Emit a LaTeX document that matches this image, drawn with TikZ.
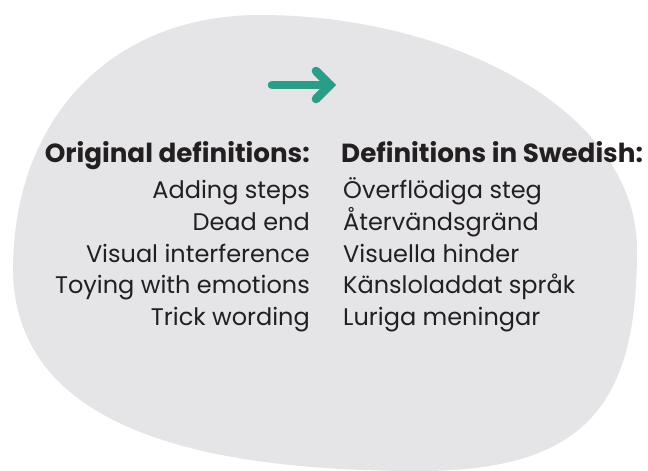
\documentclass[tikz,border=0pt]{standalone}
\usepackage{fontspec}
\setmainfont{Poppins}
\usepackage{xcolor}
\usetikzlibrary{arrows.meta,calc}
\definecolor{blobgrey}{RGB}{229,228,230}
\definecolor{arrowteal}{RGB}{42,157,137}
\definecolor{ink}{RGB}{35,31,32}

\begin{document}
\begin{tikzpicture}[line cap=round,line join=round,x=1pt,y=1pt]
                \useasboundingbox (0,0) rectangle (648,471);
                \draw [fill=blobgrey,draw=none] (260,456) .. controls (450,456) and (637,361) .. (637,221)
                    .. controls (637,71) and (590,0) .. (420,0)
                    .. controls (230,0) and (15,31) .. (13,201)
                    .. controls (13,351) and (110,456) .. (260,456) -- cycle;
                \coordinate (tail) at (272,386);
                \coordinate (tip) at (330,386);
                \coordinate (upperarm) at (316,400);
                \coordinate (lowerarm) at (316,372);
                \draw [line width=8.6pt,color=arrowteal] (tail)-- (tip);
                \draw [line width=8.6pt,color=arrowteal,line join=miter] (upperarm)-- (tip)-- (lowerarm);
                \begin{scope}[font=\fontsize{24}{28}\selectfont,color=ink,inner sep=0pt]
                    \draw (310,308) node[anchor=base east,font=\fontsize{26.2}{31}\selectfont\bfseries] (orighead) {Original definitions:};
                    \draw (341,308) node[anchor=base west,font=\fontsize{26.2}{31}\selectfont\bfseries] (swedhead) {Definitions in Swedish:};
                    \draw (310,272) node[anchor=base east] (adding) {Adding steps};
                    \draw (310,240) node[anchor=base east] (deadend) {Dead end};
                    \draw (310,208) node[anchor=base east] (visual) {Visual interference};
                    \draw (310,177) node[anchor=base east] (toying) {Toying with emotions};
                    \draw (310,145) node[anchor=base east] (trick) {Trick wording};
                    \draw (343,272) node[anchor=base west] (overflodiga) {Överflödiga steg};
                    \draw (343,240) node[anchor=base west] (atervand) {Återvändsgränd};
                    \draw (343,208) node[anchor=base west] (visuella) {Visuella hinder};
                    \draw (343,177) node[anchor=base west] (kanslo) {Känsloladdat språk};
                    \draw (343,145) node[anchor=base west] (luriga) {Luriga meningar};
                \end{scope}
            \end{tikzpicture}
\end{document}
